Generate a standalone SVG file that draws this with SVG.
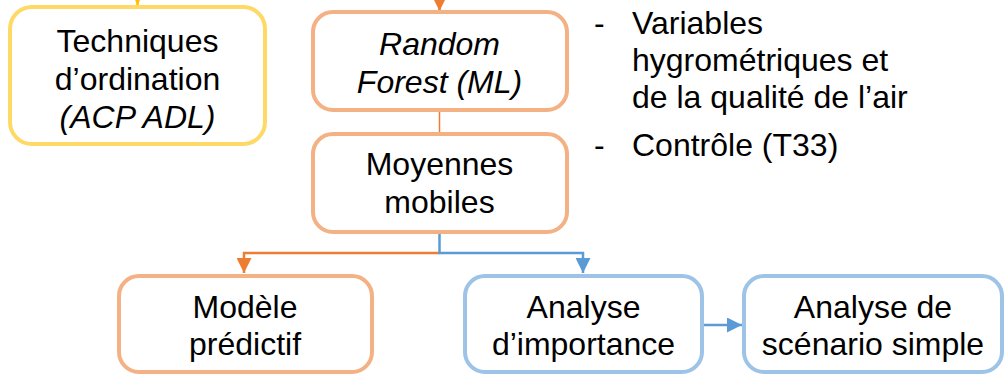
<svg xmlns="http://www.w3.org/2000/svg" width="1007" height="374" viewBox="0 0 1007 374">
<style>
text{font-family:"Liberation Sans",Arial,sans-serif;font-size:32px;fill:#000}
.c{text-anchor:middle}
.i{font-style:italic}
.box{fill:#fff;stroke-width:4}
.y{stroke:#FFD966}
.o{stroke:#F4B183}
.b{stroke:#9DC3E6}
.lo{fill:none;stroke:#ED7D31;stroke-width:2.5}
.lb{fill:none;stroke:#5B9BD5;stroke-width:2.5}
</style>
<defs>
<marker id="ao" viewBox="0 0 10 10" refX="10" refY="5" markerWidth="6" markerHeight="6" orient="auto" markerUnits="strokeWidth"><path d="M0,0L10,5L0,10z" fill="#ED7D31"/></marker>
<marker id="ab" viewBox="0 0 10 10" refX="10" refY="5" markerWidth="6" markerHeight="6" orient="auto" markerUnits="strokeWidth"><path d="M0,0L10,5L0,10z" fill="#5B9BD5"/></marker>
<marker id="ay" viewBox="0 0 10 10" refX="10" refY="5" markerWidth="6" markerHeight="6" orient="auto" markerUnits="strokeWidth"><path d="M0,0L10,5L0,10z" fill="#FFC000"/></marker>
</defs>
<g id="connectors">
<path class="lo" d="M137.5,-20V5" style="stroke:#FFC000" marker-end="url(#ay)"/>
<path class="lo" d="M439.5,-20V11" marker-end="url(#ao)"/>
<path class="lo" d="M439.5,110V133" style="stroke-width:1.5"/>
<path class="lo" d="M439.5,253H244V273" marker-end="url(#ao)"/>
<path class="lb" d="M439.5,232V253H583V273" marker-end="url(#ab)"/>
<path class="lb" d="M702,325H742" marker-end="url(#ab)"/>
</g>
<g id="techniques">
<rect class="box y" x="10" y="7" width="255" height="137" rx="22"/>
<text class="c" x="137.5" y="52">Techniques</text>
<text class="c" x="137.5" y="90">d’ordination</text>
<text class="c i" x="137.5" y="128">(ACP ADL)</text>
</g>
<g id="random-forest">
<rect class="box o" x="313" y="12" width="254" height="98" rx="20"/>
<text class="c i" x="439.5" y="55">Random</text>
<text class="c i" x="439.5" y="93">Forest (ML)</text>
</g>
<g id="moyennes">
<rect class="box o" x="313" y="134" width="254" height="98" rx="20"/>
<text class="c" x="439.5" y="175">Moyennes</text>
<text class="c" x="439.5" y="213">mobiles</text>
</g>
<g id="modele">
<rect class="box o" x="119" y="276" width="253" height="96" rx="20"/>
<text class="c" x="245" y="318">Modèle</text>
<text class="c" x="245" y="355">prédictif</text>
</g>
<g id="importance">
<rect class="box b" x="465" y="276" width="237" height="96" rx="20"/>
<text class="c" x="583.5" y="318">Analyse</text>
<text class="c" x="583.5" y="355">d’importance</text>
</g>
<g id="scenario">
<rect class="box b" x="744" y="276" width="258" height="96" rx="20"/>
<text class="c" x="873" y="318">Analyse de</text>
<text class="c" x="873" y="355">scénario simple</text>
</g>
<g id="notes">
<text x="594" y="34">-</text>
<text x="632" y="34">Variables</text>
<text x="632" y="71">hygrométriques et</text>
<text x="632" y="108">de la qualité de l’air</text>
<text x="594" y="156">-</text>
<text x="632" y="156">Contrôle (T33)</text>
</g>
</svg>
